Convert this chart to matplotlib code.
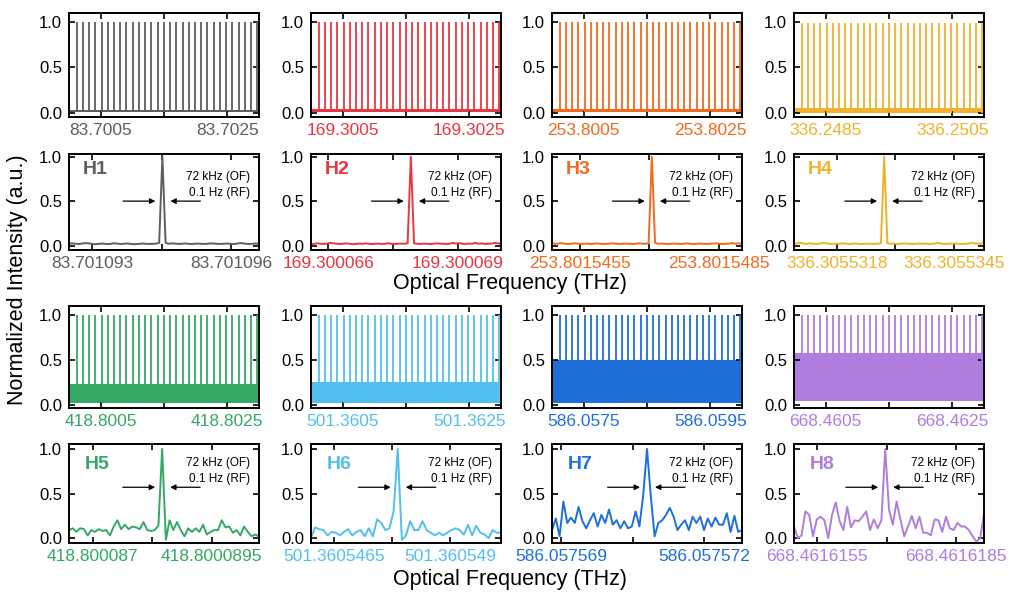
import matplotlib
matplotlib.use("Agg")
import matplotlib.pyplot as plt
import numpy as np

plt.rcParams["font.family"] = ["Liberation Sans", "DejaVu Sans"]

# harmonic names and colours
names = ["H1", "H2", "H3", "H4", "H5", "H6", "H7", "H8"]
colors = ["#5e5e5e", "#e8373f", "#f26a1d", "#f0b22b",
          "#34a865", "#52c0ee", "#1f6fd8", "#ae7ddf"]

# wide-span comb panels (THz)
comb_start = [83.7000, 169.3000, 253.8000, 336.2480,
              418.8000, 501.3600, 586.0570, 668.4600]
comb_span = 0.003
comb_ticks = [("83.7005", "83.7025"), ("169.3005", "169.3025"),
              ("253.8005", "253.8025"), ("336.2485", "336.2505"),
              ("418.8005", "418.8025"), ("501.3605", "501.3625"),
              ("586.0575", "586.0595"), ("668.4605", "668.4625")]
comb_first = 0.00012      # first line offset from comb_start
comb_spacing = 0.0000984  # line spacing
comb_count = 30
comb_peak = [1.0, 1.0, 1.0, 0.99, 1.0, 1.0, 1.0, 1.0]
band_low = [0.005, 0.005, 0.005, 0.0, 0.02, 0.03, 0.02, 0.05]
band_high = [0.035, 0.04, 0.045, 0.055, 0.24, 0.26, 0.50, 0.58]

# narrow-span single line panels (THz)
zoom_lo = [83.7010925, 169.3000656, 253.8015449, 336.3055308,
           418.8000865, 501.3605460, 586.0575688, 668.4616150]
zoom_hi = [83.7010966, 169.3000700, 253.8015490, 336.3055352,
           418.8000905, 501.3605501, 586.0575728, 668.4616191]
zoom_ticks = [("83.701093", "83.701096"), ("169.300066", "169.300069"),
              ("253.8015455", "253.8015485"), ("336.3055318", "336.3055345"),
              ("418.800087", "418.8000895"), ("501.3605465", "501.360549"),
              ("586.057569", "586.057572"), ("668.4616155", "668.4616185")]

h1 = [0.020, 0.025, 0.020, 0.018, 0.022, 0.028, 0.025, 0.020, 0.015, 0.018,
      0.022, 0.020, 0.017, 0.020, 0.025, 0.022, 0.018, 0.020, 0.023, 0.020,
      0.015, 0.017, 0.020, 0.022, 0.020, 0.018, 0.020, 0.022, 0.030, 1.000,
      0.030, 0.020, 0.025, 0.022, 0.018, 0.020, 0.024, 0.020, 0.017, 0.020,
      0.022, 0.020, 0.018, 0.020, 0.025, 0.022, 0.020, 0.018, 0.020, 0.023,
      0.020, 0.017, 0.020, 0.028, 0.025, 0.020, 0.018, 0.020, 0.022, 0.020]
h2 = [0.015, 0.020, 0.025, 0.020, 0.018, 0.022, 0.030, 0.025, 0.020, 0.018,
      0.020, 0.024, 0.020, 0.015, 0.018, 0.022, 0.020, 0.025, 0.020, 0.017,
      0.020, 0.022, 0.018, 0.020, 0.025, 0.020, 0.017, 0.020, 0.022, 0.020,
      0.025, 1.000, 0.025, 0.020, 0.018, 0.022, 0.020, 0.017, 0.020, 0.025,
      0.022, 0.020, 0.018, 0.020, 0.030, 0.022, 0.028, 0.020, 0.018, 0.022,
      0.020, 0.030, 0.020, 0.025, 0.018, 0.020, 0.022, 0.030, 0.025, 0.020]
h3 = [0.025, 0.020, 0.022, 0.028, 0.020, 0.018, 0.020, 0.025, 0.022, 0.018,
      0.020, 0.022, 0.018, 0.020, 0.024, 0.020, 0.017, 0.020, 0.022, 0.025,
      0.020, 0.018, 0.020, 0.022, 0.020, 0.018, 0.020, 0.025, 0.022, 0.020,
      0.025, 1.000, 0.030, 0.020, 0.022, 0.020, 0.018, 0.020, 0.022, 0.020,
      0.018, 0.020, 0.025, 0.020, 0.017, 0.020, 0.022, 0.020, 0.018, 0.020,
      0.022, 0.025, 0.020, 0.018, 0.020, 0.022, 0.028, 0.020, 0.025, 0.020]
h4 = [0.020, 0.025, 0.030, 0.022, 0.020, 0.025, 0.020, 0.018, 0.022, 0.028,
      0.025, 0.020, 0.018, 0.022, 0.020, 0.025, 0.022, 0.018, 0.020, 0.024,
      0.020, 0.017, 0.020, 0.022, 0.020, 0.018, 0.022, 0.025, 1.000, 0.025,
      0.020, 0.022, 0.018, 0.020, 0.025, 0.022, 0.020, 0.018, 0.020, 0.024,
      0.020, 0.022, 0.018, 0.020, 0.025, 0.028, 0.020, 0.018, 0.022, 0.020,
      0.025, 0.020, 0.018, 0.020, 0.022, 0.028, 0.025, 0.020, 0.022, 0.030]
h5 = [0.09, 0.11, 0.07, 0.11, 0.10, 0.03, 0.09, 0.07, 0.10, 0.08,
      0.09, 0.03, 0.13, 0.20, 0.10, 0.15, 0.10, 0.13, 0.12, 0.10,
      0.18, 0.09, 0.08, 0.09, 0.14, 1.00, -0.02, 0.20, 0.09, 0.18,
      0.09, 0.02, 0.11, 0.07, 0.11, 0.07, 0.15, 0.04, 0.07, 0.09,
      0.09, 0.20, 0.12, 0.13, 0.06, 0.09, 0.03, 0.13, 0.07, 0.02,
      0.04, 0.02]
h6 = [0.00, 0.12, 0.10, 0.09, 0.03, 0.07, 0.06, 0.03, 0.07, 0.10,
      0.03, 0.07, 0.09, 0.02, 0.11, 0.02, 0.21, 0.17, 0.09, 0.11,
      0.30, 1.00, -0.02, 0.03, 0.19, 0.09, 0.09, 0.19, 0.09, 0.06,
      0.03, 0.06, 0.03, 0.06, 0.09, 0.11, 0.09, 0.04, 0.15, 0.03,
      0.14, 0.06, 0.04, 0.00, 0.09, 0.06, 0.06]
h7 = [0.09, 0.22, 0.02, 0.41, 0.17, 0.23, 0.17, 0.35, 0.19, 0.11,
      0.20, 0.28, 0.13, 0.26, 0.17, 0.32, 0.15, 0.20, 0.11, 0.19,
      0.11, 0.13, 0.30, 0.13, 0.48, 1.00, 0.47, 0.02, 0.17, 0.20,
      0.26, 0.34, 0.24, 0.09, 0.15, 0.20, 0.09, 0.24, 0.17, 0.24,
      0.09, 0.22, 0.13, 0.23, 0.15, 0.15, 0.28, 0.07, 0.25, 0.07,
      0.09]
h8 = [0.13, 0.00, 0.03, 0.30, 0.26, 0.02, 0.21, 0.24, 0.20, 0.00,
      0.26, 0.40, 0.19, 0.09, 0.35, 0.12, 0.20, 0.19, 0.24, 0.30,
      0.09, 0.21, 0.11, 0.20, 1.00, 0.32, 0.15, 0.41, 0.21, 0.02,
      0.13, 0.25, 0.11, 0.24, 0.06, 0.06, 0.03, 0.21, 0.20, 0.07,
      0.24, 0.11, 0.09, 0.17, 0.13, 0.13, 0.09, 0.02, -0.04, 0.00,
      0.28]
traces = [h1, h2, h3, h4, h5, h6, h7, h8]

# layout in pixels of a 1014 x 593 canvas
W, H = 1014, 593
col_left = [69, 311, 552, 794]
col_width = 190
comb_rows = [(13, 117), (306, 408)]
zoom_rows = [(154, 250), (444, 543)]

fig = plt.figure(figsize=(W / 100, H / 100), dpi=100)


def make_axes(left, top, bottom):
    return fig.add_axes([left / W, 1 - bottom / H, col_width / W, (bottom - top) / H])


def style_axes(ax, color):
    for sp in ax.spines.values():
        sp.set_linewidth(1.4)
    ax.tick_params(direction="in", top=True, right=True, length=4, width=1.2)
    ax.tick_params(axis="x", labelcolor=color, labelsize=12.5, pad=4)
    ax.tick_params(axis="y", labelsize=12, pad=5)
    ax.set_yticks([0.0, 0.5, 1.0])
    ax.set_yticklabels(["0.0", "0.5", "1.0"])


for i in range(8):
    color = colors[i]
    block = i // 4
    col = i % 4

    # ---- comb panel ----
    top, bottom = comb_rows[block]
    ax = make_axes(col_left[col], top, bottom)
    f0 = comb_start[i]
    lines = f0 + comb_first + comb_spacing * np.arange(comb_count)
    ax.fill_between([f0, f0 + comb_span], band_low[i], band_high[i],
                    color=color, lw=0)
    ax.vlines(lines, band_low[i], comb_peak[i], color=color, lw=1.3)
    ax.set_xlim(f0, f0 + comb_span)
    ax.set_ylim(-0.045 if block == 0 else -0.03, 1.1)
    t1, t2 = comb_ticks[i]
    ax.set_xticks([float(t1), (float(t1) + float(t2)) / 2, float(t2)])
    ax.set_xticklabels([t1, "", t2])
    style_axes(ax, color)

    # ---- single line panel ----
    top, bottom = zoom_rows[block]
    ax = make_axes(col_left[col], top, bottom)
    y = np.array(traces[i])
    x = np.linspace(zoom_lo[i], zoom_hi[i], len(y))
    ax.plot(x, y, color=color, lw=1.4)
    ax.set_xlim(zoom_lo[i], zoom_hi[i])
    ax.set_ylim((-0.05, 1.03) if block == 0 else (-0.055, 1.055))
    t1, t2 = zoom_ticks[i]
    ax.set_xticks([float(t1), (float(t1) + float(t2)) / 2, float(t2)])
    ax.set_xticklabels([t1, "", t2])
    style_axes(ax, color)

    tr = ax.get_yaxis_transform()
    pk = np.argmax(y) / (len(y) - 1)
    ya = 0.50 if block == 0 else 0.57
    yt1, yt2 = (0.77, 0.59) if block == 0 else (0.84, 0.66)
    yh = 0.86 if block == 0 else 0.82
    ax.text(0.07 if block == 0 else 0.085, yh, names[i], transform=tr,
            color=color, fontsize=14, fontweight="bold", va="center")
    ax.text(0.955, yt1, "72 kHz (OF)", transform=tr, fontsize=8.5,
            ha="right", va="center")
    ax.text(0.955, yt2, "0.1 Hz (RF)", transform=tr, fontsize=8.5,
            ha="right", va="center")
    arrow = dict(arrowstyle="-|>", color="k", lw=0.9, mutation_scale=8,
                 shrinkA=0, shrinkB=0)
    ax.annotate("", xy=(pk - 0.037, ya), xytext=(pk - 0.207, ya),
                xycoords=tr, textcoords=tr, arrowprops=arrow)
    ax.annotate("", xy=(pk + 0.042, ya), xytext=(pk + 0.20, ya),
                xycoords=tr, textcoords=tr, arrowprops=arrow)

fig.text(510 / W, 1 - 284 / H, "Optical Frequency (THz)", fontsize=15.5,
         ha="center", va="center")
fig.text(510 / W, 1 - 580 / H, "Optical Frequency (THz)", fontsize=15.5,
         ha="center", va="center")
fig.text(18 / W, 1 - 280 / H, "Normalized Intensity (a.u.)", fontsize=15.5,
         ha="center", va="center", rotation=90)

fig.savefig("out.png", dpi=100)
